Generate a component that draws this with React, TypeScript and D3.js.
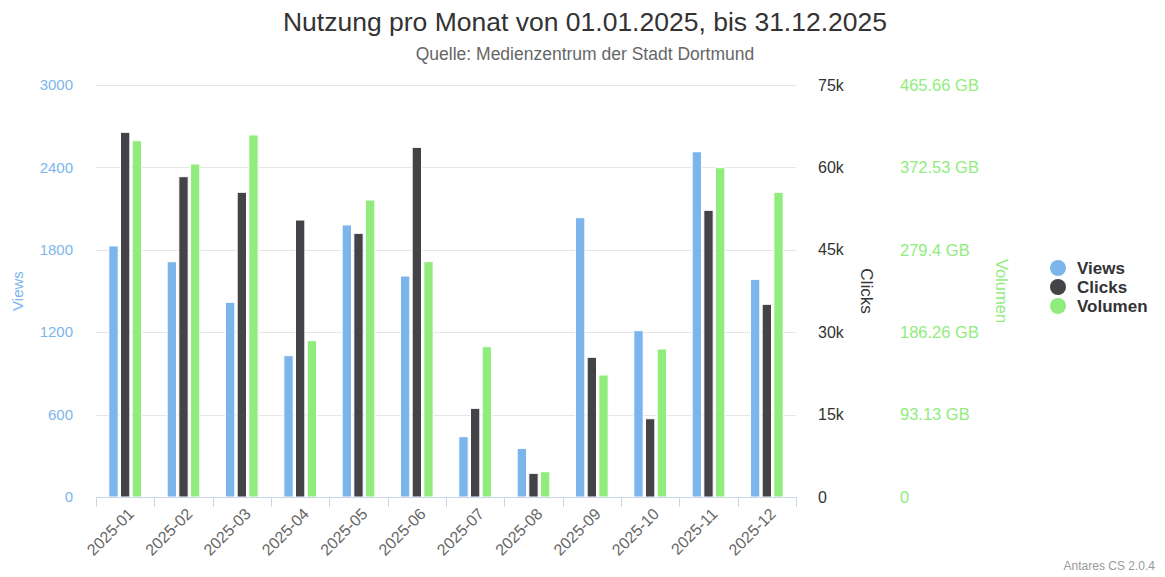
import React, { useEffect, useRef } from 'react';
import * as d3 from 'd3';

const months = ['2025-01', '2025-02', '2025-03', '2025-04', '2025-05', '2025-06', '2025-07', '2025-08', '2025-09', '2025-10', '2025-11', '2025-12'];
const views = [1828, 1713, 1418, 1029, 1981, 1609, 439, 354, 2034, 1211, 2514, 1585];
const clicks = [66390, 58310, 55470, 50420, 48000, 63650, 16140, 4310, 25430, 14250, 52190, 35080];
// Volumen in GB (GiB)
const volumen = [402.7, 376.4, 409.2, 176.7, 335.7, 266.0, 169.9, 28.6, 137.9, 167.3, 372.2, 344.4];

const viewsTicks = [0, 600, 1200, 1800, 2400, 3000];
const clicksTicks = [0, 15000, 30000, 45000, 60000, 75000];
const clicksTickLabels = ['0', '15k', '30k', '45k', '60k', '75k'];
const volumenTicks = [0, 93.13, 186.26, 279.4, 372.53, 465.66];
const volumenTickLabels = ['0', '93.13 GB', '186.26 GB', '279.4 GB', '372.53 GB', '465.66 GB'];

const seriesNames = ['Views', 'Clicks', 'Volumen'];
const colors = ['#7cb5ec', '#434348', '#90ed7d'];

const font = '"Liberation Sans", Arial, sans-serif';

function UsageChart() {
  const svgRef = useRef<SVGSVGElement>(null);

  useEffect(() => {
    const svg = d3.select(svgRef.current);
    svg.selectAll('*').remove();

    const width = 1165;
    const height = 577;
    const margin = { top: 85, right: 369, bottom: 80, left: 96 };
    const innerWidth = width - margin.left - margin.right;
    const innerHeight = height - margin.top - margin.bottom;

    const x = d3.scaleBand().domain(months).range([0, innerWidth]).paddingInner(0).paddingOuter(0);

    const yViews = d3.scaleLinear().domain([0, 3000]).range([innerHeight, 0]);
    const yClicks = d3.scaleLinear().domain([0, 75000]).range([innerHeight, 0]);
    const yVol = d3.scaleLinear().domain([0, 465.66]).range([innerHeight, 0]);
    const scales = [yViews, yClicks, yVol];
    const data = [views, clicks, volumen];

    svg.attr('font-family', font);

    // Title
    svg.append('text')
      .attr('x', 585).attr('y', 31)
      .attr('text-anchor', 'middle')
      .attr('font-size', 26.5)
      .attr('fill', '#333333')
      .text('Nutzung pro Monat von 01.01.2025, bis 31.12.2025');

    svg.append('text')
      .attr('x', 585).attr('y', 60)
      .attr('text-anchor', 'middle')
      .attr('font-size', 17.5)
      .attr('fill', '#666666')
      .text('Quelle: Medienzentrum der Stadt Dortmund');

    const chart = svg.append('g').attr('transform', `translate(${margin.left},${margin.top})`);

    // gridlines
    chart.append('g')
      .selectAll('line')
      .data(viewsTicks)
      .join('line')
      .attr('x1', 0).attr('x2', innerWidth)
      .attr('y1', (d) => Math.round(yViews(d)) + 0.5)
      .attr('y2', (d) => Math.round(yViews(d)) + 0.5)
      .attr('stroke', '#e6e6e6');

    // bars
    const pad = 0.2 * x.bandwidth();
    const groupW = x.bandwidth() - 2 * pad;
    const pointW = groupW / 3;
    seriesNames.forEach((name, si) => {
      chart.append('g')
        .selectAll('rect')
        .data(data[si])
        .join('rect')
        .attr('x', (_d, i) => (x(months[i]) as number) + pad + si * pointW + pointW * 0.1)
        .attr('y', (d) => scales[si](d))
        .attr('width', pointW * 0.8)
        .attr('height', (d) => innerHeight - scales[si](d))
        .attr('fill', colors[si])
        .attr('stroke', '#ffffff')
        .attr('stroke-width', 1);
    });

    // x axis
    const xAxis = chart.append('g').attr('transform', `translate(0,${innerHeight})`);
    xAxis.append('line')
      .attr('x1', 0).attr('x2', innerWidth)
      .attr('y1', 0.5).attr('y2', 0.5)
      .attr('stroke', '#ccd6eb');
    xAxis.selectAll('line.tick')
      .data([...months.map((m) => x(m) as number), innerWidth])
      .join('line')
      .attr('class', 'tick')
      .attr('x1', (d) => Math.round(d) + 0.5).attr('x2', (d) => Math.round(d) + 0.5)
      .attr('y1', 0).attr('y2', 10)
      .attr('stroke', '#ccd6eb');
    xAxis.selectAll('text')
      .data(months)
      .join('text')
      .attr('transform', (d) => `translate(${(x(d) as number) + x.bandwidth() / 2 + 6},${14}) rotate(-45)`)
      .attr('text-anchor', 'end')
      .attr('dy', '0.35em')
      .attr('font-size', 16)
      .attr('fill', '#666666')
      .text((d) => d);

    // left axis (Views)
    chart.append('g')
      .selectAll('text')
      .data(viewsTicks)
      .join('text')
      .attr('x', -23).attr('y', (d) => yViews(d))
      .attr('dy', '0.35em')
      .attr('text-anchor', 'end')
      .attr('font-size', 15)
      .attr('fill', '#7cb5ec')
      .text((d) => d);
    chart.append('text')
      .attr('transform', `translate(${-73},${innerHeight / 2}) rotate(-90)`)
      .attr('text-anchor', 'middle')
      .attr('font-size', 15)
      .attr('fill', '#7cb5ec')
      .text('Views');

    // right axis (Clicks)
    chart.append('g')
      .selectAll('text')
      .data(clicksTicks)
      .join('text')
      .attr('x', innerWidth + 22).attr('y', (d) => yClicks(d))
      .attr('dy', '0.35em')
      .attr('font-size', 16)
      .attr('fill', '#333333')
      .text((_d, i) => clicksTickLabels[i]);
    chart.append('text')
      .attr('transform', `translate(${innerWidth + 65},${innerHeight / 2}) rotate(90)`)
      .attr('text-anchor', 'middle')
      .attr('font-size', 17)
      .attr('fill', '#333333')
      .text('Clicks');

    // right axis (Volumen)
    chart.append('g')
      .selectAll('text')
      .data(volumenTicks)
      .join('text')
      .attr('x', innerWidth + 104).attr('y', (d) => yVol(d))
      .attr('dy', '0.35em')
      .attr('font-size', 16.5)
      .attr('fill', '#90ed7d')
      .text((_d, i) => volumenTickLabels[i]);
    chart.append('text')
      .attr('transform', `translate(${innerWidth + 200},${innerHeight / 2}) rotate(90)`)
      .attr('text-anchor', 'middle')
      .attr('font-size', 16.5)
      .attr('fill', '#90ed7d')
      .text('Volumen');

    // legend
    const legend = svg.append('g').attr('transform', 'translate(1058,268)');
    seriesNames.forEach((name, i) => {
      const item = legend.append('g').attr('transform', `translate(0,${i * 19})`);
      item.append('circle').attr('r', 8).attr('fill', colors[i]);
      item.append('text')
        .attr('x', 19).attr('dy', '0.35em')
        .attr('font-size', 17)
        .attr('font-weight', 'bold')
        .attr('fill', '#333333')
        .text(name);
    });

    // credits
    svg.append('text')
      .attr('x', 1155).attr('y', 570)
      .attr('text-anchor', 'end')
      .attr('font-size', 12)
      .attr('fill', '#999999')
      .text('Antares CS 2.0.4');

    return () => { svg.selectAll('*').remove(); };
  }, []);

  return <svg ref={svgRef} width={1165} height={577} style={{ position: 'absolute', left: 0, top: 0, background: '#ffffff' }}></svg>;
}

export default function App() {
  return <UsageChart />;
}
